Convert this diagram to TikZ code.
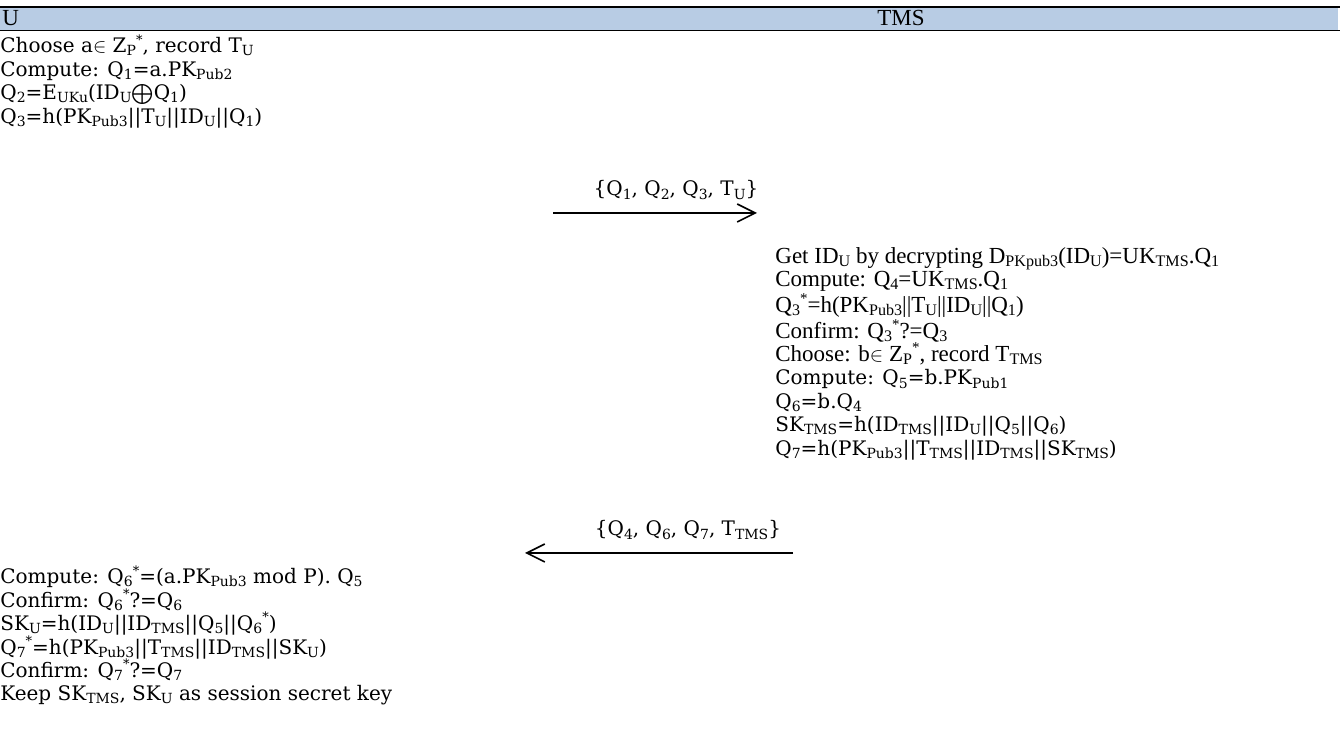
\documentclass[tikz,border=0pt]{standalone}
\usepackage{fontspec}
\setmainfont{DejaVu Serif}
\newfontfamily\cmbfont{DejaVu Serif}
\newfontfamily\timesfont[Scale=1.15]{Liberation Serif}
\usetikzlibrary{arrows.meta}
\definecolor{headblue}{RGB}{184,204,228}
\newcommand\lo[1]{\raisebox{-0.3ex}{\fontsize{7}{7}\selectfont #1}}
\newcommand\hi[1]{\raisebox{0.85ex}{\fontsize{6.5}{6.5}\selectfont #1}}
\tikzset{
  txtblock/.style={inner sep=0pt, align=left, anchor=north west,
    font=\fontsize{10}{11.7}\selectfont},
  msglabel/.style={inner sep=0pt, font=\fontsize{10}{11.7}\selectfont},
  headtxt/.style={inner sep=0pt, anchor=base, font=\fontsize{10}{11.7}\selectfont\timesfont},
}
\begin{document}
\begin{tikzpicture}[x=0.5pt,y=-0.5pt,>={Straight Barb[length=9pt,width=9pt]}]
\useasboundingbox (0,0) rectangle (1340,731);
% header bar
\fill[headblue] (0,8) rectangle (1338,30);
\draw[line width=1pt] (0,7)--(1340,7);
\draw[line width=0.7pt] (0,30.5)--(1340,30.5);
\node[headtxt, anchor=base west] (hU) at (2,26) {U};
\node[headtxt] (hTMS) at (901,26) {TMS};
% U side, first step
\node[txtblock] (uFirst) at (0,34) {%
Choose a$\in$ Z\lo{P}\hi{*}, record T\lo{U}\\
Compute: Q\lo{1}=a.PK\lo{Pub2}\\
Q\lo{2}=E\lo{UKu}(ID\lo{U}$\bigoplus$Q\lo{1})\\
Q\lo{3}=h(PK\lo{Pub3}||T\lo{U}||ID\lo{U}||Q\lo{1})};
% message U -> TMS
\coordinate (m1a) at (553,213);
\coordinate (m1b) at (757,213);
\draw[->, line width=0.8pt] (m1a)--(m1b);
\node[msglabel] (m1txt) at (676,190) {\{Q\lo{1}, Q\lo{2}, Q\lo{3}, T\lo{U}\}};
% TMS side
\node[txtblock] (tmsStep) at (775,247) {%
\timesfont Get ID\lo{U} by decrypting D\lo{PKpub3}(ID\lo{U})=UK\lo{TMS}.Q\lo{1}\\
\timesfont Compute: Q\lo{4}=UK\lo{TMS}.Q\lo{1}\\
\timesfont Q\lo{3}\hi{*}=h(PK\lo{Pub3}||T\lo{U}||ID\lo{U}||Q\lo{1})\\
\timesfont Confirm: Q\lo{3}\hi{*}?=Q\lo{3}\\
\timesfont Choose: b$\in$ Z\lo{P}\hi{*}, record T\lo{TMS}\\
\cmbfont Compute: Q\lo{5}=b.PK\lo{Pub1}\\
\cmbfont Q\lo{6}=b.Q\lo{4}\\
\cmbfont SK\lo{TMS}=h(ID\lo{TMS}||ID\lo{U}||Q\lo{5}||Q\lo{6})\\
\cmbfont Q\lo{7}=h(PK\lo{Pub3}||T\lo{TMS}||ID\lo{TMS}||SK\lo{TMS})};
% message TMS -> U
\coordinate (m2a) at (793,553);
\coordinate (m2b) at (525,553);
\draw[->, line width=0.8pt] (m2a)--(m2b);
\node[msglabel] (m2txt) at (688,530) {\{Q\lo{4}, Q\lo{6}, Q\lo{7}, T\lo{TMS}\}};
% U side, last step
\node[txtblock] (uLast) at (0,565) {%
Compute: Q\lo{6}\hi{*}=(a.PK\lo{Pub3} mod P). Q\lo{5}\\
Confirm: Q\lo{6}\hi{*}?=Q\lo{6}\\
SK\lo{U}=h(ID\lo{U}||ID\lo{TMS}||Q\lo{5}||Q\lo{6}\hi{*})\\
Q\lo{7}\hi{*}=h(PK\lo{Pub3}||T\lo{TMS}||ID\lo{TMS}||SK\lo{U})\\
Confirm: Q\lo{7}\hi{*}?=Q\lo{7}\\
Keep SK\lo{TMS}, SK\lo{U} as session secret key};
\end{tikzpicture}
\end{document}
